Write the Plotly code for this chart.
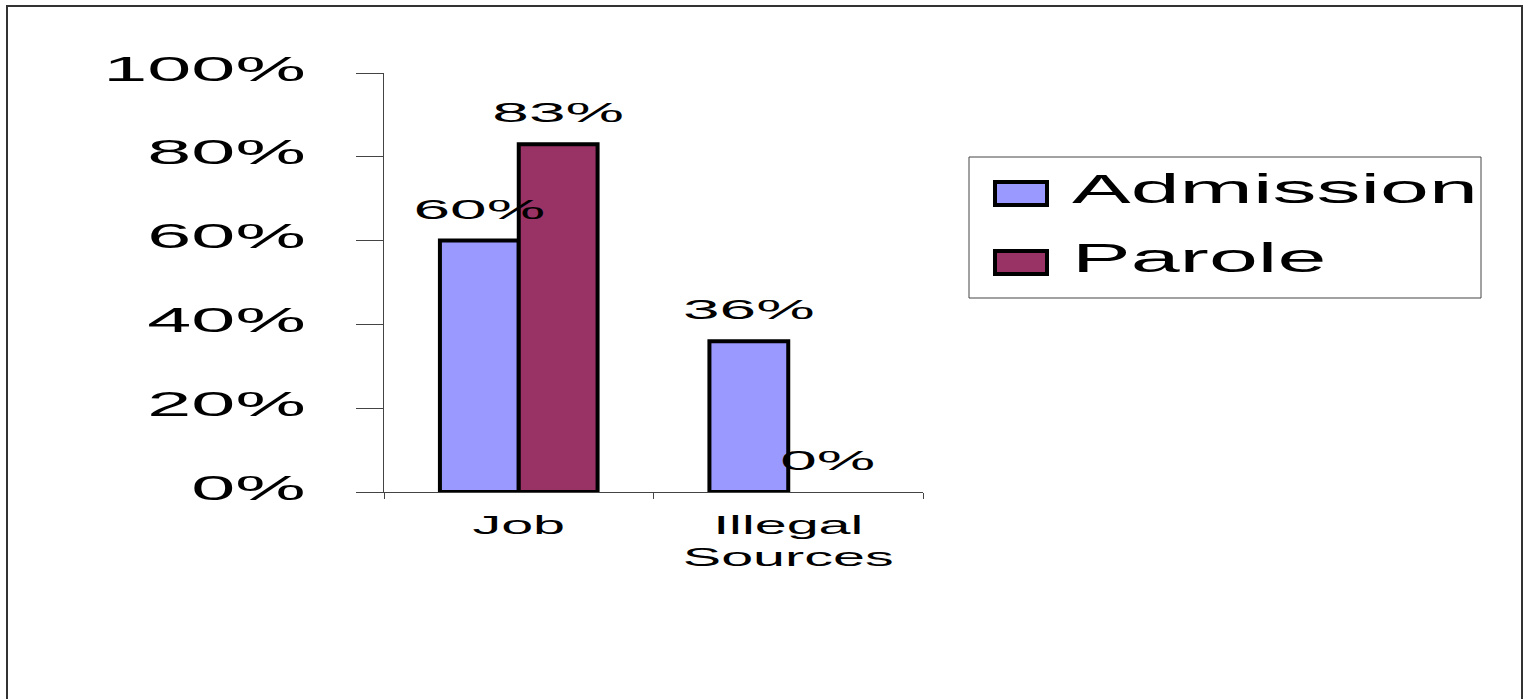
import plotly.graph_objects as go

categories = ["Job", "Illegal<br>Sources"]
series_names = ["Admission", "Parole"]
admission = [0.60, 0.36]
parole = [0.83, 0.00]
tick_vals = [0, 0.2, 0.4, 0.6, 0.8, 1.0]
tick_text = ["0%", "20%", "40%", "60%", "80%", "100%"]

colors = {"Admission": "#9999FF", "Parole": "#993366"}
FONT = "Liberation Sans, Arial, sans-serif"

W, H = 1525, 699
L, R, T, B = 384, 602, 73, 207
pw, ph = W - L - R, H - T - B


def px_x(p):
    return (p - L) / pw


def px_y(p):
    return (H - B - p) / ph


fig = go.Figure()
for name, vals in zip(series_names, [admission, parole]):
    fig.add_trace(go.Bar(
        name=name, x=categories, y=vals,
        marker=dict(color=colors[name],
                    line=dict(color="black", width=[4 if v > 0 else 0 for v in vals])),
        text=[f"{v:.0%}" for v in vals], textposition="outside",
        textfont=dict(family=FONT, size=28, color="black"),
        constraintext="none", cliponaxis=False,
        legendgroup=name,
    ))

fig.update_layout(
    width=W, height=H, margin=dict(l=L, r=R, t=T, b=B),
    paper_bgcolor="white", plot_bgcolor="white",
    barmode="group", bargap=0.415, bargroupgap=0,
    font=dict(family=FONT, color="black"),
    showlegend=True,
    legend=dict(
        x=px_x(982), y=px_y(155), xanchor="left", yanchor="top",
        bgcolor="rgba(0,0,0,0)", borderwidth=0,
        font=dict(family=FONT, size=40, color="black"),
        traceorder="grouped", tracegroupgap=14, itemwidth=80,
    ),
    xaxis=dict(
        type="category", tickson="boundaries", ticks="outside", ticklen=6,
        tickcolor="#444", showline=True, linecolor="#444", linewidth=1,
        showgrid=False, tickfont=dict(family=FONT, size=25, color="black"),
        ticklabelstandoff=11, range=[-0.5, 1.5],
    ),
    yaxis=dict(
        range=[0, 1], tickvals=tick_vals, ticktext=tick_text,
        ticks="outside", ticklen=27, tickcolor="#444",
        showline=True, linecolor="#444", linewidth=1, showgrid=False,
        zeroline=False, tickfont=dict(family=FONT, size=36, color="black"),
        ticklabelstandoff=43,
    ),
    shapes=[
        dict(type="rect", xref="paper", yref="paper",
             x0=px_x(7), x1=px_x(1522), y0=px_y(740), y1=px_y(6),
             line=dict(color="#333", width=2), fillcolor="rgba(0,0,0,0)"),
        dict(type="rect", xref="paper", yref="paper",
             x0=px_x(969), x1=px_x(1481), y0=px_y(298), y1=px_y(157),
             line=dict(color="#444", width=1), fillcolor="rgba(0,0,0,0)"),
    ],
)

post = """
var gd = document.getElementById('{plot_id}');
function stretch(sel, s, dy){
  gd.querySelectorAll(sel).forEach(function(t){
    var b = t.getBBox();
    var a = t.getAttribute('text-anchor') || t.style.textAnchor || 'start';
    var ax = a === 'end' ? b.x + b.width : (a === 'middle' ? b.x + b.width / 2 : b.x);
    var tr = t.getAttribute('transform') || '';
    t.setAttribute('transform', tr + ' translate(' + ax + ',' + (dy||0) + ') scale(' + s + ',1) translate(' + (-ax) + ',0)');
  });
}
stretch('.ytick text', 2.2, -5);
stretch('.xtick text', 2.3, 0);
stretch('text.bartext', 2.35, -13);
stretch('.legend text.legendtext', 2.2, 0);
gd.querySelectorAll('.legend .scrollbox').forEach(function(g){ g.removeAttribute('clip-path'); });
gd.querySelectorAll('.legend path.legendbar, .legend path.legendundefined').forEach(function(p){
  p.setAttribute('d', 'M26,11.5H-26V-11.5H26Z');
  var tr = p.getAttribute('transform') || '';
  p.setAttribute('transform', tr + ' translate(-6,6)');
});
var bl = gd.querySelector('.barlayer');
if (bl) {
  var top = document.createElementNS('http://www.w3.org/2000/svg', 'g');
  bl.appendChild(top);
  gd.querySelectorAll('.barlayer text.bartext').forEach(function(t){ top.appendChild(t); });
}
"""

fig.write_html("out.html", post_script=post)
